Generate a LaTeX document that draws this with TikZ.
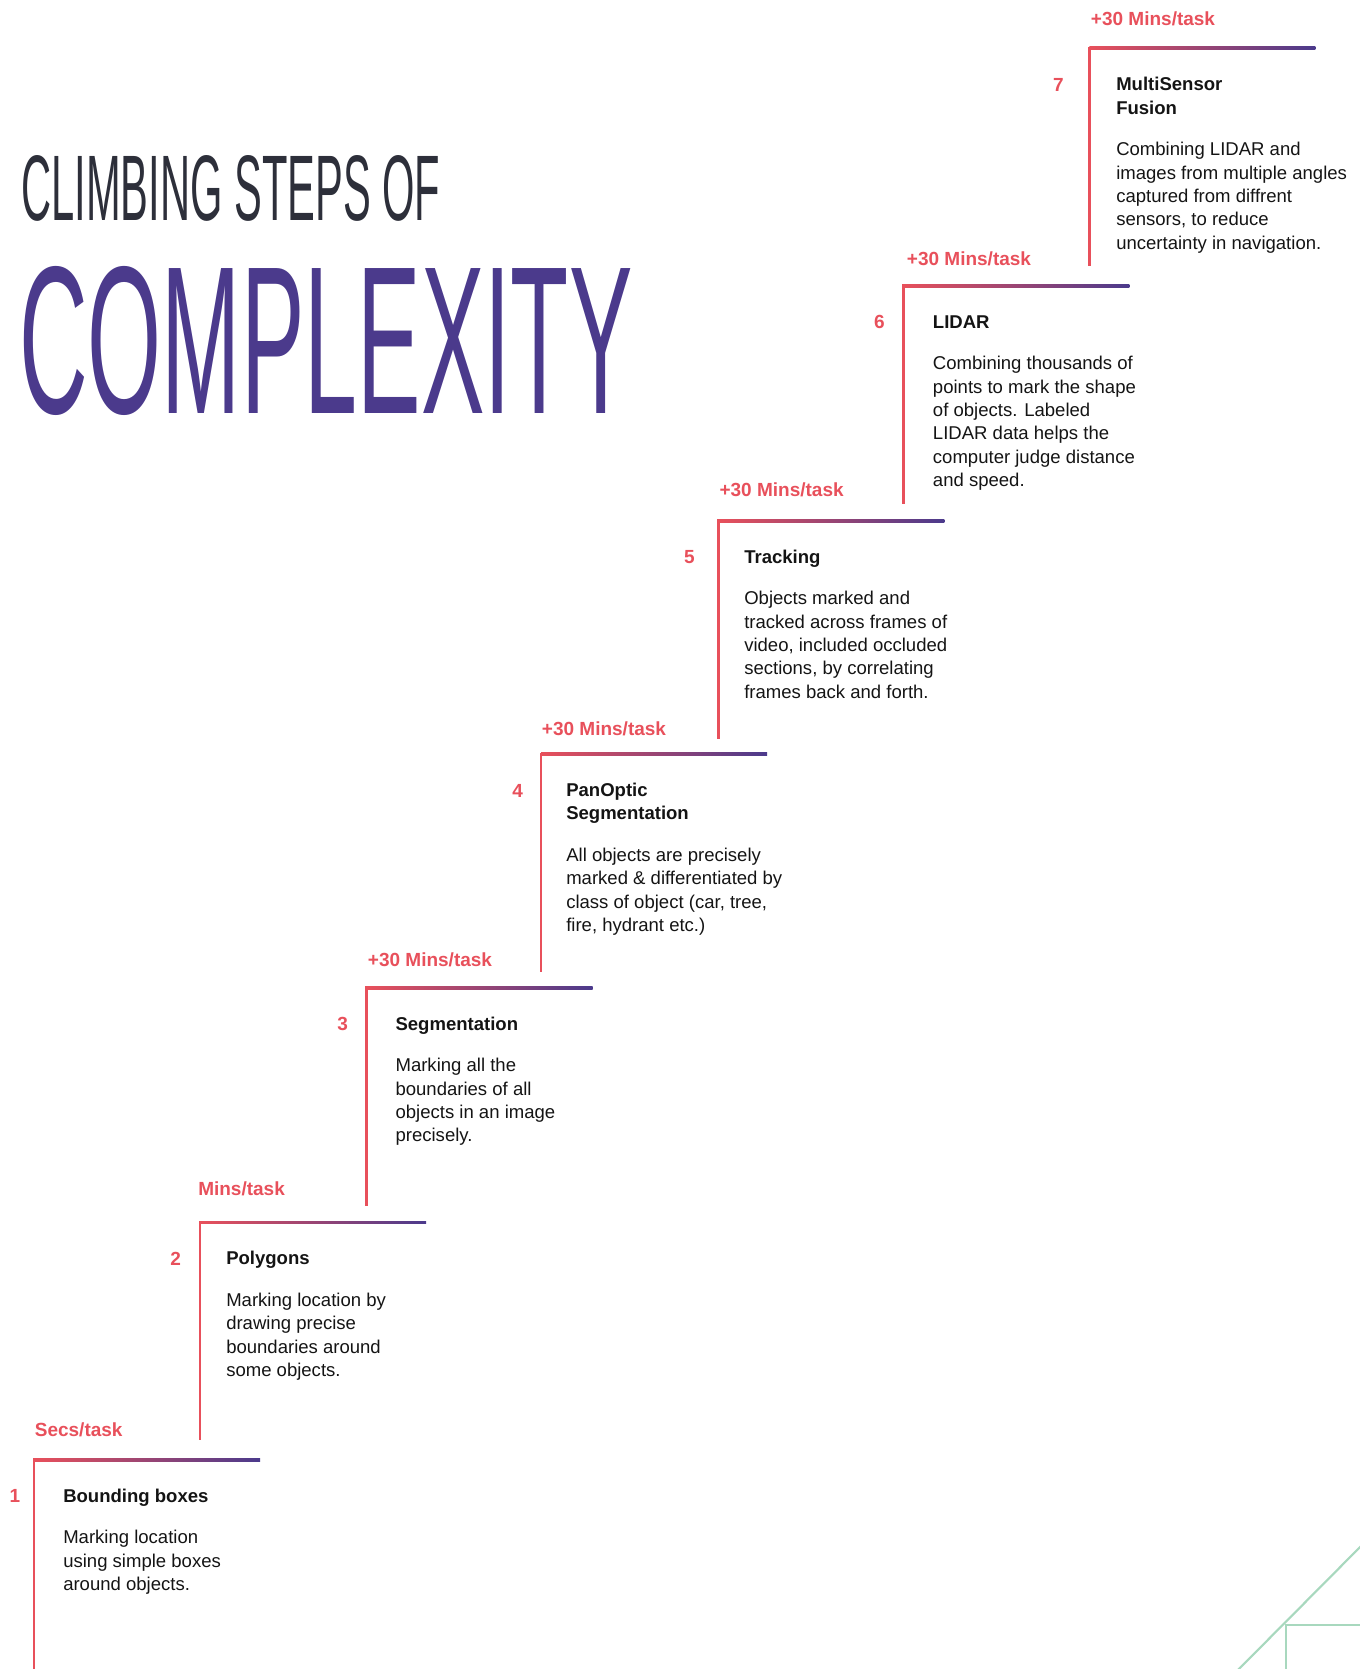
\documentclass[tikz,border=0pt]{standalone}
\usepackage{fontspec}
\usepackage{graphicx}
\setmainfont{Liberation Sans}
\definecolor{stepred}{RGB}{232,80,91}
\definecolor{steppurple}{RGB}{75,58,140}
\definecolor{headgrey}{RGB}{45,47,58}
\definecolor{edgegreen}{RGB}{168,216,190}
\definecolor{inkc}{RGB}{20,20,20}
\newcommand{\TW}{226}
\newcommand{\LW}{1.3}
\newcommand{\RH}{218}
\newcommand{\BS}{23.33}
\newcommand{\bodyfont}{\fontsize{13.9pt}{17.5pt}\selectfont}
\newcommand{\headfont}{\fontsize{13.9pt}{17.5pt}\selectfont\bfseries}
\newcommand{\ratefont}{\fontsize{14.25pt}{17.5pt}\selectfont\bfseries}
% one stair: gradient tread and red riser, corner at the local origin
\newcommand{\Stair}[1]{%
  \shade[left color=stepred, middle color=stepred!62!steppurple, right color=steppurple]
    (0,-\LW) rectangle (\TW,\LW);
  \draw[riser] (0,\LW) -- (0,-#1);}

\begin{document}
\begin{tikzpicture}[
    x=0.75pt, y=0.75pt,
    riser/.style={draw=stepred, line width=1.95pt},
    edge/.style={draw=edgegreen, line width=1.6pt},
    rate/.style={font=\ratefont, text=stepred, anchor=base west, inner sep=0pt},
    num/.style={font=\ratefont, text=stepred, anchor=base, inner sep=0pt},
    head/.style={font=\headfont, text=inkc, anchor=base west, align=left, inner sep=0pt},
    desc/.style={font=\bodyfont, text=inkc, anchor=base west, align=left, inner sep=0pt},
  ]
  \useasboundingbox (0,0) rectangle (1359,-1669);

  % --- heading
  \node[anchor=base west, inner sep=0pt, text=headgrey] (climb) at (21,-220)
    {\resizebox{314.25pt}{48.75pt}{CLIMBING STEPS OF}};
  \node[anchor=base west, inner sep=0pt, text=steppurple] (cplx) at (19,-413)
    {\resizebox{459.75pt}{110.25pt}{COMPLEXITY}};

  % --- step 1  (multi-line nodes sit on their last baseline)
  \begin{scope}[shift={(34,-1459.7)}]
    \Stair{215}
    \node[rate] (rate1) at (0.6,23.7) {Secs/task};
    \node[num]  (num1)  at (-19,-43) {1};
    \node[head] (head1) at (29,-42.5) {Bounding boxes};
    \node[desc] (desc1) at (29,{-84.2-2*\BS}) {Marking location\\using simple boxes\\around objects.};
  \end{scope}

  % --- step 2
  \begin{scope}[shift={(200,-1222.3)}]
    \Stair{\RH}
    \node[rate] (rate2) at (-2,27) {Mins/task};
    \node[num]  (num2)  at (-24.3,-43) {2};
    \node[head] (head2) at (26,-42.5) {Polygons};
    \node[desc] (desc2) at (26,{-84.2-3*\BS}) {Marking location by\\drawing precise\\boundaries around\\some objects.};
  \end{scope}

  % --- step 3
  \begin{scope}[shift={(366.7,-987.7)}]
    \Stair{\RH}
    \node[rate] (rate3) at (1,21) {+30 Mins/task};
    \node[num]  (num3)  at (-24,-43) {3};
    \node[head] (head3) at (28.6,-42.5) {Segmentation};
    \node[desc] (desc3) at (28.6,{-84.2-3*\BS}) {Marking all the\\boundaries of all\\objects in an image\\precisely.};
  \end{scope}

  % --- step 4
  \begin{scope}[shift={(541,-754)}]
    \Stair{\RH}
    \node[rate] (rate4) at (0.7,19) {+30 Mins/task};
    \node[num]  (num4)  at (-23.3,-43) {4};
    \node[head] (head4) at (25,{-42.5-\BS}) {PanOptic\\Segmentation};
    \node[desc] (desc4) at (25,{-107.5-3*\BS}) {All objects are precisely\\marked \& differentiated by\\class of object (car, tree,\\fire, hydrant etc.)};
  \end{scope}

  % --- step 5
  \begin{scope}[shift={(718.3,-520.7)}]
    \Stair{\RH}
    \node[rate] (rate5) at (1,24) {+30 Mins/task};
    \node[num]  (num5)  at (-29,-43) {5};
    \node[head] (head5) at (25.7,-42.5) {Tracking};
    \node[desc] (desc5) at (25.7,{-84.2-4*\BS}) {Objects marked and\\tracked across frames of\\video, included occluded\\sections, by correlating\\frames back and forth.};
  \end{scope}

  % --- step 6
  \begin{scope}[shift={(903.3,-285.7)}]
    \Stair{\RH}
    \node[rate] (rate6) at (3.4,19.7) {+30 Mins/task};
    \node[num]  (num6)  at (-24,-43) {6};
    \node[head] (head6) at (29.4,-42.5) {LIDAR};
    \node[desc] (desc6) at (29.4,{-84.2-5*\BS}) {Combining thousands of\\points to mark the shape\\of objects. Labeled\\LIDAR data helps the\\computer judge distance\\and speed.};
  \end{scope}

  % --- step 7
  \begin{scope}[shift={(1089.3,-48.3)}]
    \Stair{\RH}
    \node[rate] (rate7) at (1.4,22.3) {+30 Mins/task};
    \node[num]  (num7)  at (-31,-43) {7};
    \node[head] (head7) at (26.7,{-42.5-\BS}) {MultiSensor\\Fusion};
    \node[desc] (desc7) at (26.7,{-107.5-4*\BS}) {Combining LIDAR and\\images from multiple angles\\captured from diffrent\\sensors, to reduce\\uncertainty in navigation.};
  \end{scope}

  % --- corner ornament
  \draw[edge] (1370,-1537) -- (1228,-1680);
  \draw[edge] (1370,-1625.3) -- (1286,-1625.3) -- (1286,-1680);
\end{tikzpicture}
\end{document}
